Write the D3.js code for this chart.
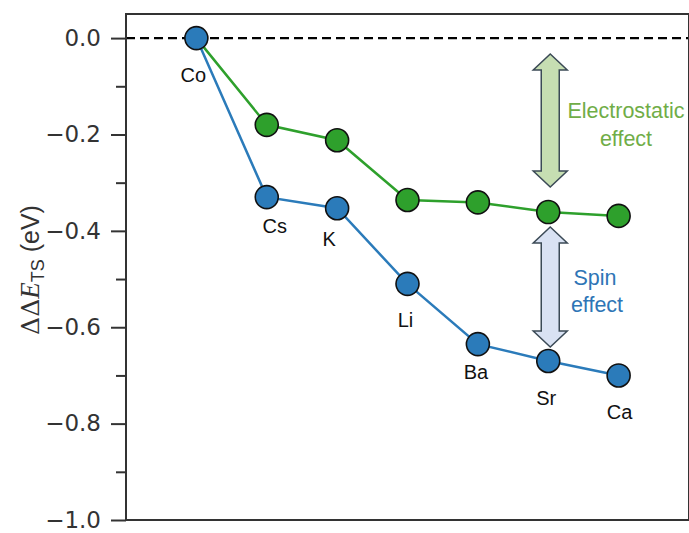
<!DOCTYPE html>
<html lang="en">
<head>
    <meta charset="utf8">
    <title>Delta Delta E TS</title>
    <script src="https://d3js.org/d3.v7.min.js"></script>
    <style>
        body { margin: 0; background: #fff; }
        svg { display: block; }
    </style>
</head>
<body>
    <svg id="chart" width="689" height="533"></svg>
    <script>
        const metals = ["Co", "Cs", "K", "Li", "Ba", "Sr", "Ca"];
        const spinValues = [0, -0.33, -0.353, -0.51, -0.635, -0.67, -0.70];
        const electroValues = [0, -0.18, -0.212, -0.336, -0.341, -0.361, -0.369];
        const yTicks = [0, -0.2, -0.4, -0.6, -0.8, -1.0];
        const yMinorTicks = [-0.1, -0.3, -0.5, -0.7, -0.9];

        // arrows: [index, top value, bottom value]
        const electroArrow = [5, -0.033, -0.309];
        const spinArrow = [5, -0.392, -0.641];

        const svg = d3.select("#chart");
        const mLeft = 126, mRight = 689, mTop = 14, mBottom = 520;

        const x = d3.scaleLinear().domain([-1, 7]).range([mLeft, mRight]);
        const y = d3.scaleLinear().domain([-1.0, 0.05]).range([mBottom, mTop]);

        const blue = "#2b7bba", green = "#2ea02c";
        const axisColor = "#333";
        const font = "Liberation Sans, Arial, sans-serif";

        // dashed zero line
        svg.append("line")
           .attr("x1", mLeft).attr("x2", mRight)
           .attr("y1", y(0)).attr("y2", y(0))
           .attr("stroke", "#000")
           .attr("stroke-width", 2.2)
           .attr("stroke-dasharray", "9,5");

        // y axis
        const yAxis = d3.axisLeft(y)
            .tickValues(yTicks)
            .tickSize(15)
            .tickPadding(10)
            .tickFormat(d => d3.format(".1f")(d).replace("-", "\u2212"));
        const gy = svg.append("g")
            .attr("transform", `translate(${mLeft},0)`)
            .call(yAxis);
        gy.select(".domain").remove();
        gy.selectAll(".tick line").attr("stroke", axisColor).attr("stroke-width", 2);
        gy.selectAll(".tick text")
          .attr("fill", axisColor)
          .style("font-family", "DejaVu Sans, sans-serif")
          .style("font-size", "23px");

        const gyMinor = svg.append("g")
            .attr("transform", `translate(${mLeft},0)`)
            .call(d3.axisLeft(y).tickValues(yMinorTicks).tickSize(10).tickFormat(""));
        gyMinor.select(".domain").remove();
        gyMinor.selectAll(".tick line").attr("stroke", axisColor).attr("stroke-width", 2);

        // frame
        svg.append("rect")
           .attr("x", mLeft).attr("y", mTop)
           .attr("width", mRight - mLeft).attr("height", mBottom - mTop)
           .attr("fill", "none")
           .attr("stroke", axisColor)
           .attr("stroke-width", 2);

        // axis title
        const title = svg.append("text")
            .attr("transform", "translate(39,270) rotate(-90)")
            .attr("text-anchor", "middle")
            .attr("fill", axisColor)
            .style("font-family", font)
            .style("font-size", "25px");
        title.append("tspan").style("font-family", "DejaVu Serif, serif").style("font-size", "25px").text("\u0394\u0394");
        title.append("tspan").style("font-family", "Liberation Serif, serif").style("font-style", "italic").style("font-size", "27px").text("E");
        title.append("tspan").attr("dy", 5).style("font-size", "18px").text("TS");
        title.append("tspan").attr("dy", -5).text(" (eV)");

        // double arrows
        function doubleArrow(spec, fill) {
            const cx = x(spec[0]) + 2, y1 = y(spec[1]), y2 = y(spec[2]);
            const sw = 9, hw = 17, hl = 16;
            const pts = [
                [cx, y1], [cx + hw, y1 + hl], [cx + sw, y1 + hl],
                [cx + sw, y2 - hl], [cx + hw, y2 - hl], [cx, y2],
                [cx - hw, y2 - hl], [cx - sw, y2 - hl], [cx - sw, y1 + hl],
                [cx - hw, y1 + hl]
            ];
            svg.append("path")
               .attr("d", d3.line()(pts) + "Z")
               .attr("fill", fill)
               .attr("stroke", "#3b4a56")
               .attr("stroke-width", 1.5);
        }
        doubleArrow(electroArrow, "#c6deb2");
        doubleArrow(spinArrow, "#d9e2f3");

        const eText = svg.append("text")
            .attr("text-anchor", "middle")
            .attr("fill", "#70ad47")
            .style("font-family", font)
            .style("font-size", "21.5px");
        eText.append("tspan").attr("x", 626).attr("y", 118).text("Electrostatic");
        eText.append("tspan").attr("x", 626).attr("y", 146).text("effect");

        const sText = svg.append("text")
            .attr("text-anchor", "middle")
            .attr("fill", "#2e75b6")
            .style("font-family", font)
            .style("font-size", "21.5px");
        sText.append("tspan").attr("x", 595).attr("y", 285).text("Spin");
        sText.append("tspan").attr("x", 597).attr("y", 312).text("effect");

        // lines
        const line = d3.line().x((d, i) => x(i)).y(d => y(d));
        svg.append("path").datum(electroValues)
           .attr("d", line).attr("fill", "none")
           .attr("stroke", green).attr("stroke-width", 2.5);
        svg.append("path").datum(spinValues)
           .attr("d", line).attr("fill", "none")
           .attr("stroke", blue).attr("stroke-width", 2.5);

        // points
        svg.selectAll(".ept")
           .data(electroValues.slice(1))
           .enter().append("circle")
           .attr("class", "ept")
           .attr("cx", (d, i) => x(i + 1))
           .attr("cy", d => y(d))
           .attr("r", 11.5)
           .attr("fill", green)
           .attr("stroke", "#111")
           .attr("stroke-width", 1.6);
        svg.selectAll(".spt")
           .data(spinValues)
           .enter().append("circle")
           .attr("class", "spt")
           .attr("cx", (d, i) => x(i))
           .attr("cy", d => y(d))
           .attr("r", 11.5)
           .attr("fill", blue)
           .attr("stroke", "#111")
           .attr("stroke-width", 1.6);

        // metal labels, small hand nudges as in the figure
        const nudge = [[-3, 44], [8, 36], [-8, 38], [-2, 43], [-2, 35], [-2, 44], [1, 44]];
        svg.selectAll(".lbl")
           .data(metals)
           .enter().append("text")
           .attr("class", "lbl")
           .attr("x", (d, i) => x(i) + nudge[i][0])
           .attr("y", (d, i) => y(spinValues[i]) + nudge[i][1])
           .attr("text-anchor", "middle")
           .attr("fill", "#111")
           .style("font-family", font)
           .style("font-size", "20px")
           .text(d => d);
    </script>
</body>
</html>
